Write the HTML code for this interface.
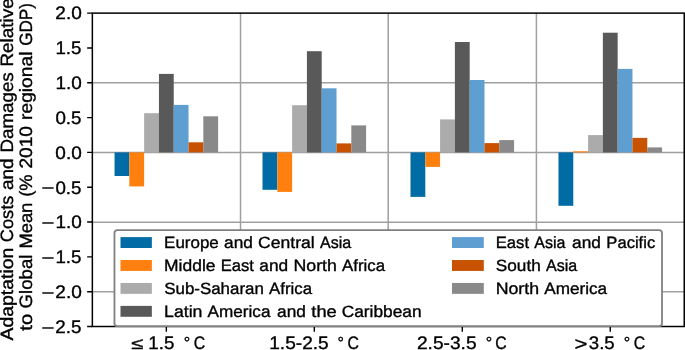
<!DOCTYPE html><html><head><meta charset="utf-8"><title>Adaptation costs chart</title><style>html,body{margin:0;padding:0;background:#fff;overflow:hidden}svg{display:block;will-change:transform}text{font-family:"Liberation Sans",sans-serif;fill:#000;text-rendering:geometricPrecision;stroke:#000;stroke-width:0.35px}</style></head><body>
<svg width="685" height="350" viewBox="0 0 685 350">
<rect width="685" height="350" fill="#fff"/>
<path d="M92.35 82.70H684.25 M92.35 152.52H684.25 M92.35 222.20H684.25 M92.35 291.67H684.25 M240.52 13.12V326.50 M388.20 13.12V326.50 M536.40 13.12V326.50" stroke="#a0a0a0" stroke-width="1.5" fill="none"/>
<rect x="114.55" y="152.40" width="14.80" height="23.60" fill="#006BA4"/>
<rect x="129.34" y="152.40" width="14.80" height="34.00" fill="#FF800E"/>
<rect x="144.14" y="113.20" width="14.80" height="39.20" fill="#ABABAB"/>
<rect x="158.94" y="73.90" width="14.80" height="78.50" fill="#595959"/>
<rect x="173.74" y="104.90" width="14.80" height="47.50" fill="#5F9ED1"/>
<rect x="188.53" y="142.30" width="14.80" height="10.10" fill="#C85200"/>
<rect x="203.33" y="116.30" width="14.80" height="36.10" fill="#898989"/>
<rect x="262.52" y="152.40" width="14.80" height="37.40" fill="#006BA4"/>
<rect x="277.32" y="152.40" width="14.80" height="39.50" fill="#FF800E"/>
<rect x="292.12" y="105.20" width="14.80" height="47.20" fill="#ABABAB"/>
<rect x="306.91" y="51.20" width="14.80" height="101.20" fill="#595959"/>
<rect x="321.71" y="88.30" width="14.80" height="64.10" fill="#5F9ED1"/>
<rect x="336.51" y="143.40" width="14.80" height="9.00" fill="#C85200"/>
<rect x="351.31" y="125.40" width="14.80" height="27.00" fill="#898989"/>
<rect x="410.50" y="152.40" width="14.80" height="44.50" fill="#006BA4"/>
<rect x="425.29" y="152.40" width="14.80" height="14.50" fill="#FF800E"/>
<rect x="440.09" y="119.40" width="14.80" height="33.00" fill="#ABABAB"/>
<rect x="454.89" y="42.00" width="14.80" height="110.40" fill="#595959"/>
<rect x="469.69" y="80.00" width="14.80" height="72.40" fill="#5F9ED1"/>
<rect x="484.48" y="143.10" width="14.80" height="9.30" fill="#C85200"/>
<rect x="499.28" y="140.10" width="14.80" height="12.30" fill="#898989"/>
<rect x="558.47" y="152.40" width="14.80" height="53.40" fill="#006BA4"/>
<rect x="573.27" y="151.30" width="14.80" height="1.10" fill="#FF800E"/>
<rect x="588.07" y="135.10" width="14.80" height="17.30" fill="#ABABAB"/>
<rect x="602.86" y="32.70" width="14.80" height="119.70" fill="#595959"/>
<rect x="617.66" y="68.90" width="14.80" height="83.50" fill="#5F9ED1"/>
<rect x="632.46" y="137.90" width="14.80" height="14.50" fill="#C85200"/>
<rect x="647.26" y="147.40" width="14.80" height="5.00" fill="#898989"/>
<path d="M87.15 13.12H92.35 M87.15 47.94H92.35 M87.15 82.76H92.35 M87.15 117.58H92.35 M87.15 152.40H92.35 M87.15 187.22H92.35 M87.15 222.04H92.35 M87.15 256.86H92.35 M87.15 291.68H92.35 M87.15 326.50H92.35 M166.34 326.50V331.70 M314.31 326.50V331.70 M462.29 326.50V331.70 M610.26 326.50V331.70" stroke="#000" stroke-width="1.4" fill="none"/>
<rect x="92.35" y="13.12" width="591.90" height="313.38" stroke="#000" stroke-width="1.5" fill="none"/>
<rect x="114.47" y="230.2" width="547.53" height="96.00" rx="3" ry="3" fill="#fff" stroke="#808080" stroke-width="1.8"/>
<rect x="120.5" y="237.10" width="31.35" height="10.9" fill="#006BA4"/>
<text y="248" font-size="16.3"><tspan x="164.14" textLength="54.64" lengthAdjust="spacingAndGlyphs">Europe</tspan> <tspan x="224.02" textLength="28.84" lengthAdjust="spacingAndGlyphs">and</tspan> <tspan x="258.11" textLength="56.53" lengthAdjust="spacingAndGlyphs">Central</tspan> <tspan x="319.98" textLength="31.19" lengthAdjust="spacingAndGlyphs">Asia</tspan></text>
<rect x="120.5" y="260.03" width="31.35" height="10.9" fill="#FF800E"/>
<text y="271" font-size="16.3"><tspan x="164.10" textLength="51.37" lengthAdjust="spacingAndGlyphs">Middle</tspan> <tspan x="220.66" textLength="33.24" lengthAdjust="spacingAndGlyphs">East</tspan> <tspan x="259.31" textLength="28.84" lengthAdjust="spacingAndGlyphs">and</tspan> <tspan x="293.49" textLength="43.38" lengthAdjust="spacingAndGlyphs">North</tspan> <tspan x="342.10" textLength="42.99" lengthAdjust="spacingAndGlyphs">Africa</tspan></text>
<rect x="120.5" y="282.96" width="31.35" height="10.9" fill="#ABABAB"/>
<text y="294" font-size="16.3"><tspan x="164.26" textLength="99.60" lengthAdjust="spacingAndGlyphs">Sub-Saharan</tspan> <tspan x="269.14" textLength="42.99" lengthAdjust="spacingAndGlyphs">Africa</tspan></text>
<rect x="120.5" y="305.89" width="31.35" height="10.9" fill="#595959"/>
<text y="317" font-size="16.3"><tspan x="164.08" textLength="38.33" lengthAdjust="spacingAndGlyphs">Latin</tspan> <tspan x="207.64" textLength="62.84" lengthAdjust="spacingAndGlyphs">America</tspan> <tspan x="277.06" textLength="28.84" lengthAdjust="spacingAndGlyphs">and</tspan> <tspan x="311.31" textLength="25.44" lengthAdjust="spacingAndGlyphs">the</tspan> <tspan x="341.72" textLength="79.85" lengthAdjust="spacingAndGlyphs">Caribbean</tspan></text>
<rect x="452.0" y="237.10" width="31.8" height="10.9" fill="#5F9ED1"/>
<text y="248" font-size="16.3"><tspan x="495.77" textLength="33.24" lengthAdjust="spacingAndGlyphs">East</tspan> <tspan x="534.31" textLength="31.19" lengthAdjust="spacingAndGlyphs">Asia</tspan> <tspan x="572.07" textLength="28.84" lengthAdjust="spacingAndGlyphs">and</tspan> <tspan x="606.35" textLength="48.88" lengthAdjust="spacingAndGlyphs">Pacific</tspan></text>
<rect x="452.0" y="260.03" width="31.8" height="10.9" fill="#C85200"/>
<text y="271" font-size="16.3"><tspan x="495.85" textLength="44.88" lengthAdjust="spacingAndGlyphs">South</tspan> <tspan x="545.99" textLength="31.19" lengthAdjust="spacingAndGlyphs">Asia</tspan></text>
<rect x="452.0" y="282.96" width="31.8" height="10.9" fill="#898989"/>
<text y="294" font-size="16.3"><tspan x="495.68" textLength="43.38" lengthAdjust="spacingAndGlyphs">North</tspan> <tspan x="544.28" textLength="62.84" lengthAdjust="spacingAndGlyphs">America</tspan></text>
<text y="19" font-size="18.1"><tspan x="55.30" textLength="26.51" lengthAdjust="spacingAndGlyphs">2.0</tspan></text>
<text y="54" font-size="18.1"><tspan x="55.46" textLength="26.03" lengthAdjust="spacingAndGlyphs">1.5</tspan></text>
<text y="89" font-size="18.1"><tspan x="55.44" textLength="26.37" lengthAdjust="spacingAndGlyphs">1.0</tspan></text>
<text y="124" font-size="18.1"><tspan x="55.40" textLength="26.09" lengthAdjust="spacingAndGlyphs">0.5</tspan></text>
<text y="159" font-size="18.1"><tspan x="55.39" textLength="26.42" lengthAdjust="spacingAndGlyphs">0.0</tspan></text>
<text y="194" font-size="18.1"><tspan x="41.40" dy="0" textLength="12.87" lengthAdjust="spacingAndGlyphs">−</tspan><tspan x="55.40" dy="0" textLength="26.09" lengthAdjust="spacingAndGlyphs">0.5</tspan></text>
<text y="228" font-size="18.1"><tspan x="41.40" dy="1" textLength="12.87" lengthAdjust="spacingAndGlyphs">−</tspan><tspan x="55.44" dy="-1" textLength="26.37" lengthAdjust="spacingAndGlyphs">1.0</tspan></text>
<text y="263" font-size="18.1"><tspan x="41.40" dy="1" textLength="12.87" lengthAdjust="spacingAndGlyphs">−</tspan><tspan x="55.46" dy="-1" textLength="26.03" lengthAdjust="spacingAndGlyphs">1.5</tspan></text>
<text y="298" font-size="18.1"><tspan x="41.40" dy="1" textLength="12.87" lengthAdjust="spacingAndGlyphs">−</tspan><tspan x="55.30" dy="-1" textLength="26.51" lengthAdjust="spacingAndGlyphs">2.0</tspan></text>
<text y="333" font-size="18.1"><tspan x="41.40" dy="1" textLength="12.87" lengthAdjust="spacingAndGlyphs">−</tspan><tspan x="55.31" dy="-1" textLength="26.19" lengthAdjust="spacingAndGlyphs">2.5</tspan></text>
<text y="349" font-size="16.0"><tspan x="131.37" textLength="12.07" lengthAdjust="spacingAndGlyphs">≤</tspan></text>
<text y="349" font-size="18.1"><tspan x="148.31" textLength="26.03" lengthAdjust="spacingAndGlyphs">1.5</tspan></text>
<text y="349" font-size="18.1"><tspan x="193.67" textLength="11.46" lengthAdjust="spacingAndGlyphs">C</tspan></text>
<text x="183.65" y="348" font-size="16">°</text>
<text y="349" font-size="18.1"><tspan x="269.25" textLength="59.44" lengthAdjust="spacingAndGlyphs">1.5-2.5</tspan></text>
<text y="349" font-size="18.1"><tspan x="347.42" textLength="11.46" lengthAdjust="spacingAndGlyphs">C</tspan></text>
<text x="337.55" y="348" font-size="16">°</text>
<text y="349" font-size="18.1"><tspan x="416.98" textLength="59.58" lengthAdjust="spacingAndGlyphs">2.5-3.5</tspan></text>
<text y="349" font-size="18.1"><tspan x="495.27" textLength="11.46" lengthAdjust="spacingAndGlyphs">C</tspan></text>
<text x="485.75" y="348" font-size="16">°</text>
<text y="350" font-size="18.24"><tspan x="574.51" textLength="12.87" lengthAdjust="spacingAndGlyphs">&gt;</tspan></text>
<text y="349" font-size="18.1"><tspan x="588.84" textLength="25.89" lengthAdjust="spacingAndGlyphs">3.5</tspan></text>
<text y="349" font-size="18.1"><tspan x="633.72" textLength="11.46" lengthAdjust="spacingAndGlyphs">C</tspan></text>
<text x="623.75" y="348" font-size="16">°</text>
<text transform="translate(12.90 340.40) rotate(-90)" y="0" font-size="17.9"><tspan x="-0.04" textLength="92.70" lengthAdjust="spacingAndGlyphs">Adaptation</tspan> <tspan x="98.28" textLength="46.44" lengthAdjust="spacingAndGlyphs">Costs</tspan> <tspan x="150.52" textLength="31.43" lengthAdjust="spacingAndGlyphs">and</tspan> <tspan x="187.82" textLength="80.31" lengthAdjust="spacingAndGlyphs">Damages</tspan> <tspan x="273.80" textLength="68.38" lengthAdjust="spacingAndGlyphs">Relative</tspan></text>
<text transform="translate(32.00 330.40) rotate(-90)" y="0" font-size="17.9"><tspan x="-0.31" textLength="16.83" lengthAdjust="spacingAndGlyphs">to</tspan> <tspan x="22.03" textLength="53.86" lengthAdjust="spacingAndGlyphs">Global</tspan> <tspan x="81.81" textLength="45.90" lengthAdjust="spacingAndGlyphs">Mean</tspan> <tspan x="133.71" textLength="22.16" lengthAdjust="spacingAndGlyphs">(%</tspan> <tspan x="161.84" textLength="42.60" lengthAdjust="spacingAndGlyphs">2010</tspan> <tspan x="210.49" textLength="68.33" lengthAdjust="spacingAndGlyphs">regional</tspan> <tspan x="284.63" textLength="42.65" lengthAdjust="spacingAndGlyphs">GDP)</tspan></text>
</svg></body></html>
